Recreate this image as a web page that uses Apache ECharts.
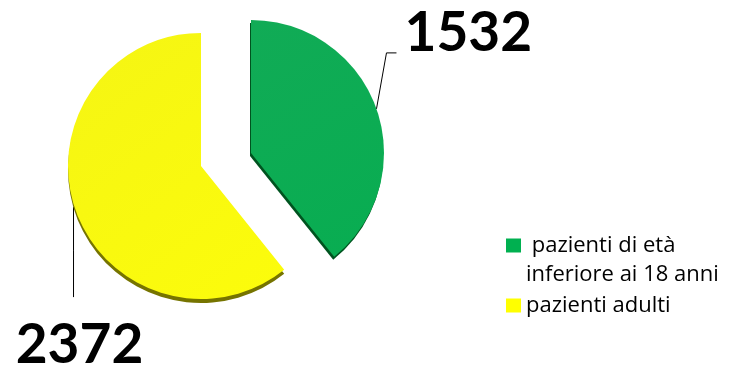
<!DOCTYPE html>
<html>
<head>
<meta charset="utf-8">
<script src="https://cdn.jsdelivr.net/npm/echarts@6/dist/echarts.min.js"></script>
<style>
  html, body { margin: 0; padding: 0; background: #ffffff; }
  #chart { width: 730px; height: 375px; }
</style>
</head>
<body>
<div id="chart"></div>
<script>
// Patient groups and counts
const categories = ['pazienti di età inferiore ai 18 anni', 'pazienti adulti'];
const values = [1532, 2372];
// Legend wording, one entry per category (split over lines)
const legendLabels = [' pazienti di età\ninferiore ai 18 anni', 'pazienti adulti'];

const faceColors = ['#08a84f', '#f5f50b'];
const edgeColors = ['#00531f', '#767400'];
const edgeOffsets = [[-1, 3], [0, 4]];
const legendColors = ['#00b050', '#ffff00'];

const hidden = {
  itemStyle: { color: 'rgba(0,0,0,0)', shadowColor: 'rgba(0,0,0,0)' },
  label: { show: false },
  labelLine: { show: false },
  emphasis: { disabled: true }
};

// One pie per slice so the green wedge can sit pulled out from the yellow one
function sliceSeries(idx, center, layoutFn) {
  return {
    type: 'pie',
    center: center,
    radius: 133,
    startAngle: 90,
    clockwise: true,
    silent: true,
    animation: false,
    avoidLabelOverlap: false,
    data: categories.map(function (name, i) {
      if (i !== idx) return Object.assign({ name: name, value: values[i] }, hidden);
      return {
        name: name,
        value: values[i],
        itemStyle: {
          color: {
            type: 'linear', x: 0, y: 0, x2: 1, y2: 1,
            colorStops: [
              { offset: 0, color: echarts.color.lift(faceColors[i], 0.04) },
              { offset: 1, color: echarts.color.lift(faceColors[i], -0.03) }
            ]
          },
          // hard offset shadow gives the thin extruded rim
          shadowColor: edgeColors[i],
          shadowOffsetX: edgeOffsets[i][0],
          shadowOffsetY: edgeOffsets[i][1],
          shadowBlur: 0
        }
      };
    }),
    label: {
      show: true,
      position: 'outside',
      formatter: '{c}',
      fontFamily: 'Lato',
      fontWeight: 'bold',
      fontSize: 55,
      color: '#000000'
    },
    labelLine: {
      show: true,
      length: 20,
      length2: 10,
      lineStyle: { color: '#000000', width: 1 }
    },
    labelLayout: layoutFn
  };
}

const option = {
  backgroundColor: '#ffffff',
  legend: {
    orient: 'vertical',
    left: 501,
    top: 197,
    itemWidth: 15,
    itemHeight: 14,
    itemGap: 2,
    icon: 'rect',
    selectedMode: false,
    data: categories.map(function (name, i) {
      return { name: name, itemStyle: { color: legendColors[i] } };
    }),
    formatter: function (name) {
      const i = categories.indexOf(name);
      // blank first line keeps the swatch level with the first text line
      return i === 0 ? '\n' + legendLabels[i] : legendLabels[i];
    },
    textStyle: {
      fontFamily: 'Open Sans',
      fontSize: 22,
      lineHeight: 29,
      color: '#000000'
    }
  },
  series: [
    sliceSeries(1, [201, 166], function (p) {
      const a = p.labelLinePoints && p.labelLinePoints[0];
      if (!a) return {};
      return {
        x: a[0] + 4,
        y: a[1] + 135,
        align: 'center',
        verticalAlign: 'middle',
        labelLinePoints: [[a[0] - 2, a[1] - 3], [a[0] - 2, a[1] + 40], [a[0] - 2, a[1] + 87]]
      };
    }),
    sliceSeries(0, [251, 153], function (p) {
      const a = p.labelLinePoints && p.labelLinePoints[0];
      if (!a) return {};
      return {
        x: a[0] + 28,
        y: a[1] - 76,
        align: 'left',
        verticalAlign: 'middle',
        labelLinePoints: [a, [a[0] + 10, a[1] - 56], [a[0] + 20, a[1] - 56]]
      };
    })
  ]
};

const chart = echarts.init(document.getElementById('chart'), null, { renderer: 'canvas' });
chart.setOption(option);
</script>
</body>
</html>
